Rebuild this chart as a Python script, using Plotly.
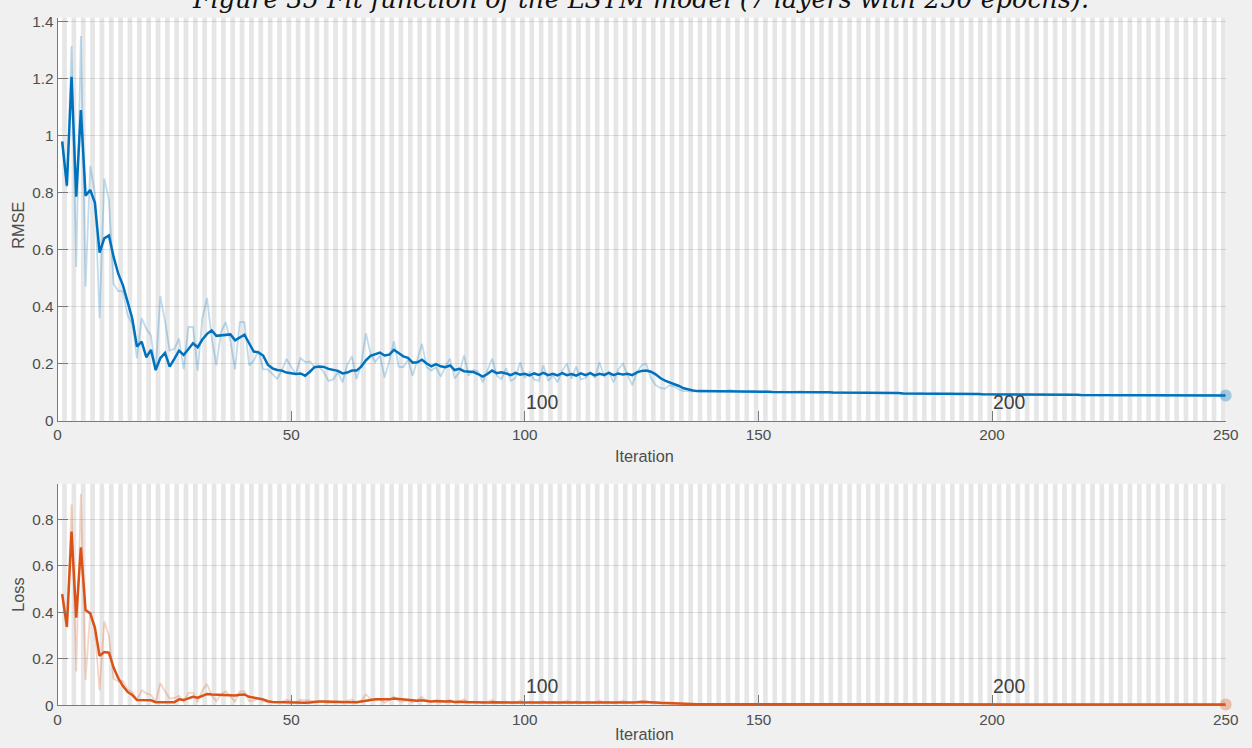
import plotly.graph_objects as go

W, H = 1252, 748

iterations = list(range(1, 251))

rmse_raw = [
    0.980, 0.820, 1.315, 0.540, 1.350, 0.470, 0.894, 0.800, 0.360, 0.850,
    0.775, 0.480, 0.455, 0.455, 0.370, 0.340, 0.220, 0.360, 0.323, 0.299,
    0.176, 0.437, 0.350, 0.246, 0.252, 0.288, 0.181, 0.329, 0.329, 0.176,
    0.360, 0.430, 0.290, 0.194, 0.311, 0.346, 0.280, 0.180, 0.346, 0.346,
    0.194, 0.211, 0.246, 0.180, 0.180, 0.164, 0.147, 0.176, 0.217, 0.190,
    0.164, 0.220, 0.206, 0.208, 0.188, 0.188, 0.170, 0.140, 0.145, 0.170,
    0.135, 0.196, 0.226, 0.146, 0.200, 0.307, 0.235, 0.206, 0.229, 0.152,
    0.210, 0.279, 0.190, 0.188, 0.214, 0.158, 0.214, 0.270, 0.188, 0.176,
    0.188, 0.155, 0.190, 0.218, 0.148, 0.170, 0.229, 0.158, 0.178, 0.173,
    0.135, 0.176, 0.218, 0.158, 0.146, 0.185, 0.140, 0.150, 0.205, 0.150,
    0.170, 0.145, 0.140, 0.195, 0.140, 0.160, 0.135, 0.175, 0.200, 0.148,
    0.190, 0.145, 0.150, 0.170, 0.150, 0.205, 0.155, 0.170, 0.135, 0.180,
    0.200, 0.160, 0.125, 0.170, 0.195, 0.200, 0.150, 0.125, 0.115, 0.112,
    0.125, 0.120, 0.110, 0.104, 0.103, 0.103, 0.103, 0.102, 0.103, 0.104,
    0.103, 0.102, 0.104, 0.108, 0.104, 0.102, 0.101, 0.102, 0.103, 0.101,
    0.102, 0.103, 0.101, 0.100, 0.102, 0.101, 0.100, 0.102, 0.103, 0.101,
    0.100, 0.101, 0.099, 0.100, 0.101, 0.098, 0.099, 0.100, 0.098, 0.099,
    0.098, 0.097, 0.099, 0.098, 0.097, 0.098, 0.096, 0.097, 0.098, 0.096,
    0.096, 0.097, 0.095, 0.096, 0.097, 0.094, 0.095, 0.096, 0.094, 0.095,
    0.096, 0.094, 0.093, 0.095, 0.094, 0.093, 0.095, 0.092, 0.094, 0.093,
    0.092, 0.094, 0.093, 0.092, 0.093, 0.091, 0.092, 0.093, 0.091, 0.092,
    0.093, 0.090, 0.092, 0.091, 0.090, 0.092, 0.091, 0.090, 0.091, 0.089,
    0.090, 0.091, 0.089, 0.090, 0.091, 0.089, 0.088, 0.090, 0.089, 0.088,
    0.090, 0.089, 0.088, 0.089, 0.090, 0.088, 0.087, 0.089, 0.088, 0.089,
    0.090, 0.088, 0.089, 0.090, 0.088, 0.089, 0.090, 0.088, 0.089, 0.089,
]

rmse_smooth = [
    0.980, 0.825, 1.207, 0.786, 1.090, 0.790, 0.810, 0.765, 0.590, 0.640,
    0.650, 0.575, 0.516, 0.475, 0.417, 0.358, 0.260, 0.278, 0.223, 0.249,
    0.178, 0.220, 0.238, 0.190, 0.217, 0.246, 0.231, 0.252, 0.272, 0.258,
    0.285, 0.305, 0.317, 0.298, 0.300, 0.300, 0.303, 0.282, 0.293, 0.302,
    0.272, 0.243, 0.240, 0.229, 0.197, 0.184, 0.178, 0.176, 0.169, 0.166,
    0.164, 0.166, 0.158, 0.172, 0.188, 0.190, 0.189, 0.182, 0.178, 0.175,
    0.166, 0.169, 0.176, 0.176, 0.190, 0.212, 0.228, 0.234, 0.239, 0.229,
    0.232, 0.249, 0.238, 0.226, 0.221, 0.204, 0.205, 0.214, 0.201, 0.191,
    0.199, 0.191, 0.188, 0.194, 0.178, 0.182, 0.174, 0.172, 0.171, 0.164,
    0.155, 0.164, 0.176, 0.167, 0.170, 0.166, 0.160, 0.168, 0.162, 0.165,
    0.159, 0.166, 0.161, 0.168, 0.160, 0.165, 0.159, 0.167, 0.160, 0.164,
    0.158, 0.166, 0.160, 0.167, 0.159, 0.165, 0.161, 0.168, 0.160, 0.166,
    0.162, 0.165, 0.160, 0.170, 0.175, 0.176, 0.172, 0.163, 0.150, 0.141,
    0.135, 0.129, 0.122, 0.114, 0.109, 0.106, 0.104, 0.104, 0.103, 0.103,
    0.103, 0.103, 0.103, 0.104, 0.104, 0.103, 0.102, 0.102, 0.102, 0.102,
    0.102, 0.102, 0.101, 0.101, 0.101, 0.101, 0.101, 0.101, 0.102, 0.102,
    0.101, 0.100, 0.100, 0.100, 0.100, 0.099, 0.099, 0.099, 0.099, 0.099,
    0.098, 0.098, 0.098, 0.098, 0.098, 0.097, 0.097, 0.097, 0.097, 0.097,
    0.096, 0.096, 0.096, 0.096, 0.096, 0.095, 0.095, 0.095, 0.095, 0.095,
    0.095, 0.094, 0.094, 0.094, 0.094, 0.094, 0.094, 0.093, 0.093, 0.093,
    0.093, 0.093, 0.093, 0.093, 0.092, 0.092, 0.092, 0.092, 0.092, 0.092,
    0.092, 0.091, 0.091, 0.091, 0.091, 0.091, 0.091, 0.091, 0.090, 0.090,
    0.090, 0.090, 0.090, 0.090, 0.090, 0.090, 0.089, 0.089, 0.089, 0.089,
    0.089, 0.089, 0.089, 0.089, 0.089, 0.089, 0.088, 0.088, 0.088, 0.089,
    0.089, 0.089, 0.089, 0.089, 0.089, 0.089, 0.089, 0.089, 0.089, 0.089,
]

loss_raw = [
    0.480, 0.336, 0.865, 0.146, 0.911, 0.110, 0.400, 0.320, 0.065, 0.361,
    0.300, 0.115, 0.104, 0.104, 0.068, 0.058, 0.024, 0.065, 0.052, 0.045,
    0.015, 0.095, 0.061, 0.030, 0.032, 0.041, 0.016, 0.054, 0.054, 0.015,
    0.065, 0.092, 0.042, 0.019, 0.048, 0.060, 0.039, 0.016, 0.060, 0.060,
    0.019, 0.022, 0.030, 0.016, 0.016, 0.013, 0.011, 0.015, 0.024, 0.018,
    0.0134, 0.0242, 0.0212, 0.0216, 0.0177, 0.0177, 0.0145, 0.0098, 0.0105, 0.0145,
    0.0091, 0.0192, 0.0255, 0.0107, 0.0200, 0.0471, 0.0276, 0.0212, 0.0262, 0.0116,
    0.0221, 0.0389, 0.0181, 0.0177, 0.0229, 0.0125, 0.0229, 0.0365, 0.0177, 0.0155,
    0.0177, 0.0120, 0.0181, 0.0238, 0.0110, 0.0145, 0.0262, 0.0125, 0.0158, 0.0150,
    0.0091, 0.0155, 0.0238, 0.0125, 0.0107, 0.0171, 0.0098, 0.0113, 0.0210, 0.0113,
    0.0145, 0.0105, 0.0098, 0.0190, 0.0098, 0.0128, 0.0091, 0.0153, 0.0200, 0.0110,
    0.0181, 0.0105, 0.0113, 0.0145, 0.0113, 0.0210, 0.0120, 0.0145, 0.0091, 0.0162,
    0.0200, 0.0128, 0.0078, 0.0145, 0.0190, 0.0200, 0.0113, 0.0078, 0.0066, 0.0063,
    0.0078, 0.0072, 0.0060, 0.0054, 0.0053, 0.0053, 0.0053, 0.0052, 0.0053, 0.0054,
    0.0053, 0.0052, 0.0054, 0.0058, 0.0054, 0.0052, 0.0051, 0.0052, 0.0053, 0.0051,
    0.0052, 0.0053, 0.0051, 0.0050, 0.0052, 0.0051, 0.0050, 0.0052, 0.0053, 0.0051,
    0.0050, 0.0051, 0.0049, 0.0050, 0.0051, 0.0048, 0.0049, 0.0050, 0.0048, 0.0049,
    0.0048, 0.0047, 0.0049, 0.0048, 0.0047, 0.0048, 0.0046, 0.0047, 0.0048, 0.0046,
    0.0046, 0.0047, 0.0045, 0.0046, 0.0047, 0.0044, 0.0045, 0.0046, 0.0044, 0.0045,
    0.0046, 0.0044, 0.0043, 0.0045, 0.0044, 0.0043, 0.0045, 0.0042, 0.0044, 0.0043,
    0.0042, 0.0044, 0.0043, 0.0042, 0.0043, 0.0041, 0.0042, 0.0043, 0.0041, 0.0042,
    0.0043, 0.0040, 0.0042, 0.0041, 0.0040, 0.0042, 0.0041, 0.0040, 0.0041, 0.0040,
    0.0040, 0.0041, 0.0040, 0.0040, 0.0041, 0.0040, 0.0039, 0.0040, 0.0040, 0.0039,
    0.0040, 0.0040, 0.0039, 0.0040, 0.0040, 0.0039, 0.0038, 0.0040, 0.0039, 0.0040,
    0.0040, 0.0039, 0.0040, 0.0040, 0.0039, 0.0040, 0.0040, 0.0039, 0.0040, 0.0040,
]

loss_smooth = [
    0.479, 0.338, 0.748, 0.378, 0.680, 0.410, 0.396, 0.335, 0.213, 0.230,
    0.227, 0.163, 0.117, 0.083, 0.058, 0.045, 0.023, 0.023, 0.023, 0.022,
    0.014, 0.014, 0.014, 0.014, 0.014, 0.026, 0.023, 0.030, 0.037, 0.033,
    0.040, 0.049, 0.047, 0.046, 0.046, 0.046, 0.046, 0.043, 0.046, 0.047,
    0.037, 0.032, 0.030, 0.026, 0.018, 0.015, 0.014, 0.013, 0.012, 0.012,
    0.012, 0.012, 0.011, 0.013, 0.016, 0.017, 0.017, 0.016, 0.015, 0.014,
    0.013, 0.013, 0.014, 0.014, 0.017, 0.021, 0.025, 0.026, 0.027, 0.026,
    0.026, 0.030, 0.028, 0.025, 0.024, 0.020, 0.020, 0.022, 0.019, 0.017,
    0.019, 0.017, 0.017, 0.018, 0.015, 0.016, 0.014, 0.014, 0.014, 0.013,
    0.011, 0.012, 0.014, 0.013, 0.013, 0.013, 0.012, 0.013, 0.012, 0.013,
    0.012, 0.013, 0.012, 0.013, 0.012, 0.013, 0.012, 0.013, 0.012, 0.013,
    0.012, 0.013, 0.012, 0.013, 0.012, 0.013, 0.012, 0.013, 0.012, 0.013,
    0.013, 0.013, 0.012, 0.014, 0.015, 0.015, 0.014, 0.013, 0.011, 0.010,
    0.009, 0.008, 0.0075, 0.0065, 0.0060, 0.0056, 0.0054, 0.0054, 0.0053, 0.0053,
    0.0053, 0.0053, 0.0053, 0.0054, 0.0054, 0.0053, 0.0052, 0.0052, 0.0052, 0.0052,
    0.0052, 0.0052, 0.0051, 0.0051, 0.0051, 0.0051, 0.0051, 0.0051, 0.0052, 0.0052,
    0.0051, 0.0050, 0.0050, 0.0050, 0.0050, 0.0049, 0.0049, 0.0049, 0.0049, 0.0049,
    0.0048, 0.0048, 0.0048, 0.0048, 0.0048, 0.0047, 0.0047, 0.0047, 0.0047, 0.0047,
    0.0046, 0.0046, 0.0046, 0.0046, 0.0046, 0.0045, 0.0045, 0.0045, 0.0045, 0.0045,
    0.0045, 0.0044, 0.0044, 0.0044, 0.0044, 0.0044, 0.0044, 0.0043, 0.0043, 0.0043,
    0.0043, 0.0043, 0.0043, 0.0043, 0.0042, 0.0042, 0.0042, 0.0042, 0.0042, 0.0042,
    0.0042, 0.0041, 0.0041, 0.0041, 0.0041, 0.0041, 0.0041, 0.0041, 0.0041, 0.0041,
    0.0041, 0.0040, 0.0040, 0.0040, 0.0040, 0.0040, 0.0040, 0.0040, 0.0040, 0.0040,
    0.0040, 0.0040, 0.0040, 0.0040, 0.0040, 0.0040, 0.0039, 0.0039, 0.0039, 0.0040,
    0.0040, 0.0040, 0.0040, 0.0040, 0.0040, 0.0040, 0.0040, 0.0040, 0.0040, 0.0040,
]

x_ticks = [0, 50, 100, 150, 200, 250]
epoch_marks = [100, 200]
title_text = "Figure 35 Fit function of the LSTM model (7 layers with 250 epochs)."

BLUE = "#0072BD"
ORANGE = "#D95319"
AXIS = "#7a7a7a"
LABEL = "#4d4d4d"
SANS = "Liberation Sans, Arial, sans-serif"

# Layout positions are given in window pixels; the page's default body margin
# shifts and slightly shrinks the figure, so they are corrected before use.
SX, OX = 0.986, 4.0
SY, OY = 0.981, 5.0


def fx(x):
    return (x - OX) / SX / W


def fy(y):
    return 1 - (y - OY) / SY / H


def fs(size):
    return round(size / SY, 1)


fig = go.Figure()

# training curves: raw (faint) and smoothed, plus final-value marker
fig.add_trace(go.Scatter(x=iterations, y=rmse_raw, mode="lines",
                         line=dict(color="rgba(0,114,189,0.25)", width=1.8),
                         xaxis="x", yaxis="y", hoverinfo="skip"))
fig.add_trace(go.Scatter(x=iterations, y=rmse_smooth, mode="lines",
                         line=dict(color=BLUE, width=2.5),
                         xaxis="x", yaxis="y"))
fig.add_trace(go.Scatter(x=[iterations[-1]], y=[rmse_smooth[-1]], mode="markers",
                         marker=dict(size=12, color="rgba(0,114,189,0.32)"),
                         xaxis="x", yaxis="y", cliponaxis=False))

fig.add_trace(go.Scatter(x=iterations, y=loss_raw, mode="lines",
                         line=dict(color="rgba(217,83,25,0.25)", width=1.8),
                         xaxis="x2", yaxis="y2", hoverinfo="skip"))
fig.add_trace(go.Scatter(x=iterations, y=loss_smooth, mode="lines",
                         line=dict(color=ORANGE, width=2.5),
                         xaxis="x2", yaxis="y2"))
fig.add_trace(go.Scatter(x=[iterations[-1]], y=[loss_smooth[-1]], mode="markers",
                         marker=dict(size=12, color="rgba(217,83,25,0.32)"),
                         xaxis="x2", yaxis="y2", cliponaxis=False))

# alternating epoch shading
shapes = []
for xr, yr in (("x", "y domain"), ("x2", "y2 domain")):
    for e in range(1, 251, 2):
        shapes.append(dict(type="rect", xref=xr, yref=yr, x0=e, x1=e + 1, y0=0, y1=1,
                           fillcolor="#e6e6e6", line=dict(width=0), layer="below"))

annotations = [
    dict(text="<i>" + title_text + "</i>", xref="paper", yref="paper",
         x=fx(640), y=fy(17), xanchor="center", yanchor="bottom", showarrow=False,
         font=dict(family="DejaVu Serif, serif", size=25.4, color="#111111")),
    dict(text="RMSE", xref="paper", yref="paper", x=fx(18), y=fy(226),
         xanchor="center", yanchor="middle", textangle=-90, showarrow=False,
         font=dict(family=SANS, size=fs(16), color=LABEL)),
    dict(text="Loss", xref="paper", yref="paper", x=fx(18), y=fy(594),
         xanchor="center", yanchor="middle", textangle=-90, showarrow=False,
         font=dict(family=SANS, size=fs(16), color=LABEL)),
    dict(text="Iteration", xref="paper", yref="paper", x=fx(644), y=fy(456),
         xanchor="center", yanchor="middle", showarrow=False,
         font=dict(family=SANS, size=fs(16), color=LABEL)),
    dict(text="Iteration", xref="paper", yref="paper", x=fx(644), y=fy(733),
         xanchor="center", yanchor="middle", showarrow=False,
         font=dict(family=SANS, size=fs(16), color=LABEL)),
]
for xr, yr in (("x", "y"), ("x2", "y2")):
    for m in epoch_marks:
        annotations.append(dict(text=str(m), xref=xr, yref=yr, x=m, y=0,
                                xanchor="left", yanchor="bottom", showarrow=False,
                                xshift=-1, yshift=6,
                                font=dict(family=SANS, size=fs(19), color="#404040")))

xcommon = dict(range=[0, 250], tickvals=x_ticks, ticks="inside", ticklen=10,
               tickcolor=AXIS, showline=True, linecolor=AXIS, linewidth=1,
               showgrid=False, zeroline=False,
               tickfont=dict(family=SANS, size=fs(15), color=LABEL))
ycommon = dict(dtick=0.2, tick0=0, ticks="inside", ticklen=10, tickcolor=AXIS,
               showline=True, linecolor=AXIS, linewidth=1, showgrid=True,
               gridcolor="rgba(0,0,0,0.11)", gridwidth=1, zeroline=False,
               tickfont=dict(family=SANS, size=fs(15), color=LABEL))

# right end kept just inside the page so the last tick label stays visible
xd = [fx(57.5), 1238.5 / W]
fig.update_layout(
    width=W, height=H,
    margin=dict(l=0, r=0, t=0, b=0),
    paper_bgcolor="#f0f0f0",
    plot_bgcolor="white",
    showlegend=False,
    xaxis=dict(domain=xd, anchor="y", **xcommon),
    yaxis=dict(domain=[fy(420.5), fy(18.5)], anchor="x", range=[0, 1.415], **ycommon),
    xaxis2=dict(domain=xd, anchor="y2", **xcommon),
    yaxis2=dict(domain=[fy(704.3), fy(483.3)], anchor="x2", range=[0, 0.954], **ycommon),
    shapes=shapes,
    annotations=annotations,
)

fig.write_html("out.html")
